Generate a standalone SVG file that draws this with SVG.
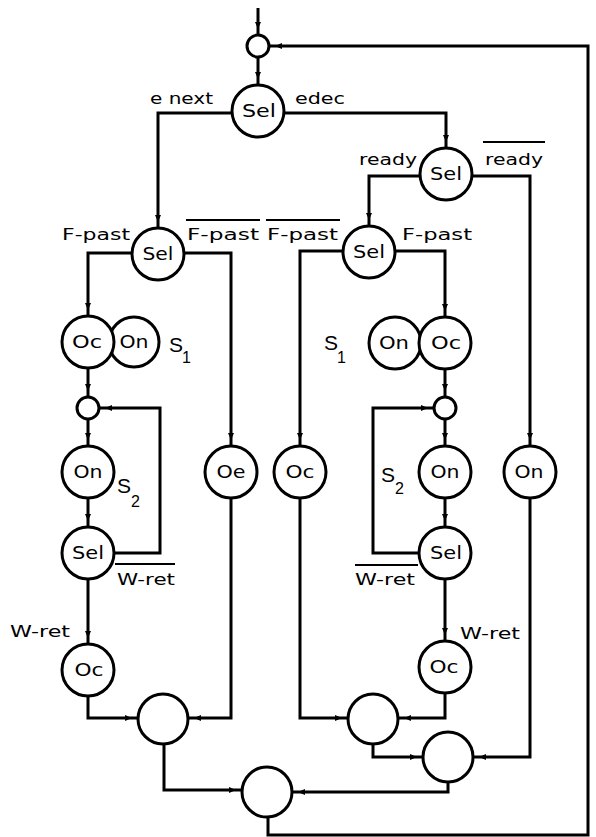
<svg xmlns="http://www.w3.org/2000/svg" width="596" height="837" viewBox="0 0 596 837">
<style>
.n{fill:#fff;stroke:#000;stroke-width:3}
.c{fill:none;stroke:#000;stroke-width:3}
.t{font-family:"DejaVu Sans","Liberation Sans",sans-serif;font-size:17.5px;fill:#000;text-anchor:middle}
.l{font-family:"DejaVu Sans","Liberation Sans",sans-serif;font-size:15px;fill:#000}
.s{font-family:"Liberation Sans",sans-serif;font-size:21px;fill:#000}
.sb{font-family:"Liberation Sans",sans-serif;font-size:16px;fill:#000}
.o{stroke:#000;stroke-width:2}
</style>
<defs>
<marker id="a" markerWidth="16" markerHeight="8" refX="16" refY="4" orient="auto" markerUnits="userSpaceOnUse"><path d="M3,1 L10,4 L3,7 z" fill="#000"/></marker>
</defs>
<g id="connectors" class="c" marker-end="url(#a)">
<path d="M258,8 V35"/>
<path d="M258,57 V85"/>
<path d="M232,113 H158 V228"/>
<path d="M284,113 H446 V148"/>
<path d="M420,176 H369 V226"/>
<path d="M472,176 H530 V446"/>
<path d="M132,253 H88 V316"/>
<path d="M184,253 H231 V446"/>
<path d="M343,251 H300 V446"/>
<path d="M395,251 H445 V317"/>
<path d="M88,368 V397"/>
<path d="M88,419 V446"/>
<path d="M88,498 V527"/>
<path d="M114,553 H160 V408 H99"/>
<path d="M88,579 V644"/>
<path d="M88,696 V718 H138"/>
<path d="M231,498 V718 H188"/>
<path d="M164,744 V790 H242"/>
<path d="M445,369 V397"/>
<path d="M445,419 V446"/>
<path d="M445,498 V527"/>
<path d="M419,553 H373 V408 H434"/>
<path d="M445,579 V641"/>
<path d="M445,693 V718 H398"/>
<path d="M300,498 V718 H348"/>
<path d="M373,744 V757 H423"/>
<path d="M530,498 V757 H473"/>
<path d="M448,782 V792 H292"/>
<path d="M268,817 V835 H588 V46 H269"/>
</g>
<g id="T"><circle class="n" cx="258" cy="46" r="11"/></g>
<g id="S0"><circle class="n" cx="258" cy="111" r="26"/><text class="t" x="259" y="117" textLength="34" lengthAdjust="spacingAndGlyphs">Sel</text></g>
<g id="SL"><circle class="n" cx="158" cy="254" r="26"/><text class="t" x="158" y="260" textLength="31" lengthAdjust="spacingAndGlyphs">Sel</text></g>
<g id="SR"><circle class="n" cx="446" cy="174" r="26"/><text class="t" x="446" y="180" textLength="32" lengthAdjust="spacingAndGlyphs">Sel</text></g>
<g id="SF"><circle class="n" cx="369" cy="252" r="26"/><text class="t" x="369" y="258" textLength="32" lengthAdjust="spacingAndGlyphs">Sel</text></g>
<g id="OnL1"><circle class="n" cx="134" cy="342" r="25"/><text class="t" x="134" y="348" textLength="29" lengthAdjust="spacingAndGlyphs">On</text></g>
<g id="OcL1"><circle class="n" cx="88" cy="342" r="26"/><text class="t" x="87" y="348" textLength="30" lengthAdjust="spacingAndGlyphs">Oc</text></g>
<g id="OnR1"><circle class="n" cx="395" cy="343" r="26"/><text class="t" x="394" y="349" textLength="30" lengthAdjust="spacingAndGlyphs">On</text></g>
<g id="OcR1"><circle class="n" cx="445" cy="343" r="26"/><text class="t" x="446" y="349" textLength="30" lengthAdjust="spacingAndGlyphs">Oc</text></g>
<g id="L2"><circle class="n" cx="88" cy="408" r="11"/></g>
<g id="R2"><circle class="n" cx="445" cy="408" r="11"/></g>
<g id="OnL2"><circle class="n" cx="88" cy="472" r="26"/><text class="t" x="88" y="478" textLength="29" lengthAdjust="spacingAndGlyphs">On</text></g>
<g id="OnR2"><circle class="n" cx="445" cy="472" r="26"/><text class="t" x="445" y="478" textLength="29" lengthAdjust="spacingAndGlyphs">On</text></g>
<g id="OeM"><circle class="n" cx="231" cy="472" r="26"/><text class="t" x="231" y="478" textLength="29" lengthAdjust="spacingAndGlyphs">Oe</text></g>
<g id="OcM"><circle class="n" cx="300" cy="472" r="26"/><text class="t" x="300" y="478" textLength="29" lengthAdjust="spacingAndGlyphs">Oc</text></g>
<g id="OnR3"><circle class="n" cx="530" cy="472" r="26"/><text class="t" x="529" y="478" textLength="29" lengthAdjust="spacingAndGlyphs">On</text></g>
<g id="SelL3"><circle class="n" cx="88" cy="553" r="26"/><text class="t" x="88" y="559" textLength="32" lengthAdjust="spacingAndGlyphs">Sel</text></g>
<g id="SelR3"><circle class="n" cx="445" cy="553" r="26"/><text class="t" x="446" y="559" textLength="32" lengthAdjust="spacingAndGlyphs">Sel</text></g>
<g id="OcL4"><circle class="n" cx="88" cy="670" r="26"/><text class="t" x="89" y="676" textLength="29" lengthAdjust="spacingAndGlyphs">Oc</text></g>
<g id="OcR4"><circle class="n" cx="445" cy="667" r="26"/><text class="t" x="444" y="673" textLength="29" lengthAdjust="spacingAndGlyphs">Oc</text></g>
<g id="ML"><circle class="n" cx="163" cy="719" r="25"/></g>
<g id="MR"><circle class="n" cx="373" cy="719" r="25"/></g>
<g id="M2"><circle class="n" cx="448" cy="757" r="25"/></g>
<g id="B"><circle class="n" cx="267" cy="792" r="25"/></g>
<g id="labels">
<text class="l" x="150" y="104" textLength="63" lengthAdjust="spacingAndGlyphs">e next</text>
<text class="l" x="295" y="104" textLength="50" lengthAdjust="spacingAndGlyphs">edec</text>
<text class="l" x="359" y="165" textLength="58" lengthAdjust="spacingAndGlyphs">ready</text>
<text class="l" x="485" y="165" textLength="58" lengthAdjust="spacingAndGlyphs">ready</text>
<line class="o" x1="483" y1="142" x2="545" y2="142"/>
<text class="l" x="62" y="240" textLength="68" lengthAdjust="spacingAndGlyphs">F-past</text>
<text class="l" x="187" y="240" textLength="72" lengthAdjust="spacingAndGlyphs">F-past</text>
<line class="o" x1="186" y1="220" x2="260" y2="220"/>
<text class="l" x="267" y="240" textLength="71" lengthAdjust="spacingAndGlyphs">F-past</text>
<line class="o" x1="266" y1="220" x2="340" y2="220"/>
<text class="l" x="402" y="240" textLength="70" lengthAdjust="spacingAndGlyphs">F-past</text>
<text class="s" x="169" y="352">S</text><text class="sb" x="182" y="363">1</text>
<text class="s" x="324" y="350">S</text><text class="sb" x="337" y="363">1</text>
<text class="s" x="117" y="493">S</text><text class="sb" x="131" y="507">2</text>
<text class="s" x="381" y="482">S</text><text class="sb" x="395" y="494">2</text>
<text class="l" x="117" y="585" textLength="58" lengthAdjust="spacingAndGlyphs">W-ret</text>
<line class="o" x1="115" y1="564" x2="175" y2="564"/>
<text class="l" x="355" y="585" textLength="60" lengthAdjust="spacingAndGlyphs">W-ret</text>
<line class="o" x1="355" y1="565" x2="418" y2="565"/>
<text class="l" x="10" y="637" textLength="60" lengthAdjust="spacingAndGlyphs">W-ret</text>
<text class="l" x="460" y="639" textLength="60" lengthAdjust="spacingAndGlyphs">W-ret</text>
</g>
</svg>
